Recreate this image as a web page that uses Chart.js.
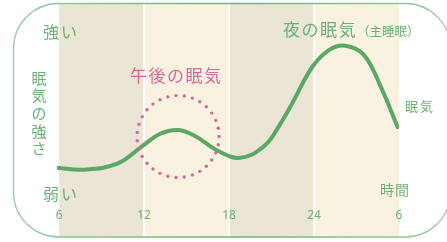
<!DOCTYPE html>
<html>
<head>
<meta charset="utf-8">
<script src="https://cdn.jsdelivr.net/npm/chart.js@4"></script>
<style>
  html, body { margin: 0; padding: 0; background: #fff; }
  #wrap { width: 447px; height: 242px; }
</style>
</head>
<body>
<div id="wrap"><canvas id="c" width="447" height="242"></canvas></div>
<script>
// hours counted from 6:00, sleepiness level 0-100
const hours = [-0.15, 1.7, 4.1, 5.9, 7.1, 8.4, 9.6, 11.2, 12.8, 14.5, 15.7, 16.5, 17.9, 19.1, 20.2, 21.5, 22.7, 23.9];
const sleepiness = [17.5, 16.5, 19.5, 28.5, 34.5, 36.5, 33.5, 26, 22.5, 28.5, 40.5, 50.5, 68.5, 77, 79, 74.5, 58.5, 38];
const tickHours = [0, 6, 12, 18, 24];
const tickLabels = ['6', '12', '18', '24', '6'];
const napPeak = { hour: 8.4, level: 33.2 };

const GREEN = '#5aa864';
const TEXT_GREEN = '#6cb075';
const PINK = '#d4689d';
const JP = '"Noto Sans CJK JP", "Noto Sans", sans-serif';

function roundRect(ctx, x, y, w, h, r) {
  ctx.beginPath();
  ctx.moveTo(x + r, y);
  ctx.lineTo(x + w - r, y);
  ctx.arc(x + w - r, y + r, r, -Math.PI / 2, 0);
  ctx.lineTo(x + w, y + h - r);
  ctx.arc(x + w - r, y + h - r, r, 0, Math.PI / 2);
  ctx.lineTo(x + r, y + h);
  ctx.arc(x + r, y + h - r, r, Math.PI / 2, Math.PI);
  ctx.lineTo(x, y + r);
  ctx.arc(x + r, y + r, r, Math.PI, Math.PI * 1.5);
  ctx.closePath();
}

const backdrop = {
  id: 'backdrop',
  beforeDraw(chart) {
    const ctx = chart.ctx, xs = chart.scales.x;
    ctx.save();
    for (let i = 0; i < tickHours.length - 1; i++) {
      const x0 = xs.getPixelForValue(tickHours[i]);
      const x1 = xs.getPixelForValue(tickHours[i + 1]);
      ctx.fillStyle = i % 2 === 0 ? '#ebe5d5' : '#f9f2e1';
      ctx.fillRect(x0 + (i ? 1 : 0), 4, x1 - x0 - (i ? 1 : 0) - (i < 3 ? 1 : 0), 233);
    }
    ctx.restore();
  },
  afterDatasetsDraw(chart) {
    const ctx = chart.ctx, xs = chart.scales.x, ys = chart.scales.y;
    ctx.save();
    // dotted circle round the afternoon dip
    const cx = xs.getPixelForValue(napPeak.hour), cy = ys.getPixelForValue(napPeak.level);
    const r = 41, n = 31;
    ctx.fillStyle = PINK;
    for (let i = 0; i < n; i++) {
      const a = i / n * Math.PI * 2;
      ctx.beginPath();
      ctx.arc(cx + r * Math.cos(a), cy + r * Math.sin(a), 1.7, 0, Math.PI * 2);
      ctx.fill();
    }
    // frame
    const g = ctx.createLinearGradient(13, 0, 450, 0);
    g.addColorStop(0, '#9ccc9f');
    g.addColorStop(0.5, '#6fb276');
    g.addColorStop(1, '#9ccc9f');
    ctx.strokeStyle = g;
    ctx.lineWidth = 1.3;
    roundRect(ctx, 13.5, 3.5, 437, 233.5, 45);
    ctx.stroke();

    // texts
    ctx.textBaseline = 'middle';
    ctx.textAlign = 'left';
    ctx.fillStyle = TEXT_GREEN;
    ctx.font = '16px ' + JP;
    ctx.letterSpacing = '2px';
    ctx.fillText('強い', 43, 32);
    ctx.fillText('弱い', 43, 194);
    ctx.letterSpacing = '0px';
    ctx.font = '15px ' + JP;
    ctx.textAlign = 'center';
    const v = '眠気の強さ';
    for (let i = 0; i < v.length; i++) ctx.fillText(v[i], 39, 78 + i * 17.6);

    ctx.textAlign = 'left';
    ctx.font = '17px ' + JP;
    ctx.letterSpacing = '1.5px';
    ctx.fillText('夜の眠気', 283, 30);
    ctx.font = '12.5px ' + JP;
    ctx.letterSpacing = '0px';
    ctx.fillText('（主睡眠）', 357, 31);
    ctx.font = '13px ' + JP;
    ctx.letterSpacing = '2px';
    ctx.fillText('眠気', 405, 106);
    ctx.font = '14px ' + JP;
    ctx.letterSpacing = '1px';
    ctx.fillText('時間', 380, 190);

    ctx.fillStyle = PINK;
    ctx.font = '17px ' + JP;
    ctx.letterSpacing = '1.5px';
    ctx.fillText('午後の眠気', 130, 76);
    ctx.restore();
  }
};

new Chart(document.getElementById('c'), {
  type: 'line',
  data: {
    datasets: [{
      data: hours.map((h, i) => ({ x: h, y: sleepiness[i] })),
      borderColor: GREEN,
      borderWidth: 4,
      borderCapStyle: 'round',
      pointRadius: 0,
      tension: 0.4,
      fill: false
    }]
  },
  options: {
    responsive: false,
    animation: false,
    layout: { padding: { top: 4, left: 57, right: 48, bottom: 13.2 } },
    plugins: { legend: { display: false }, tooltip: { enabled: false } },
    scales: {
      x: {
        type: 'linear',
        min: -0.15,
        max: 24,
        grid: { display: false, drawTicks: false },
        border: { display: false },
        afterBuildTicks(scale) { scale.ticks = tickHours.map(v => ({ value: v })); },
        ticks: {
          padding: 6,
          color: TEXT_GREEN,
          font: { family: '"Noto Sans", sans-serif', size: 12 },
          callback: (v) => tickLabels[tickHours.indexOf(v)]
        }
      },
      y: { display: false, min: 0, max: 100 }
    }
  },
  plugins: [backdrop]
});
</script>
</body>
</html>
